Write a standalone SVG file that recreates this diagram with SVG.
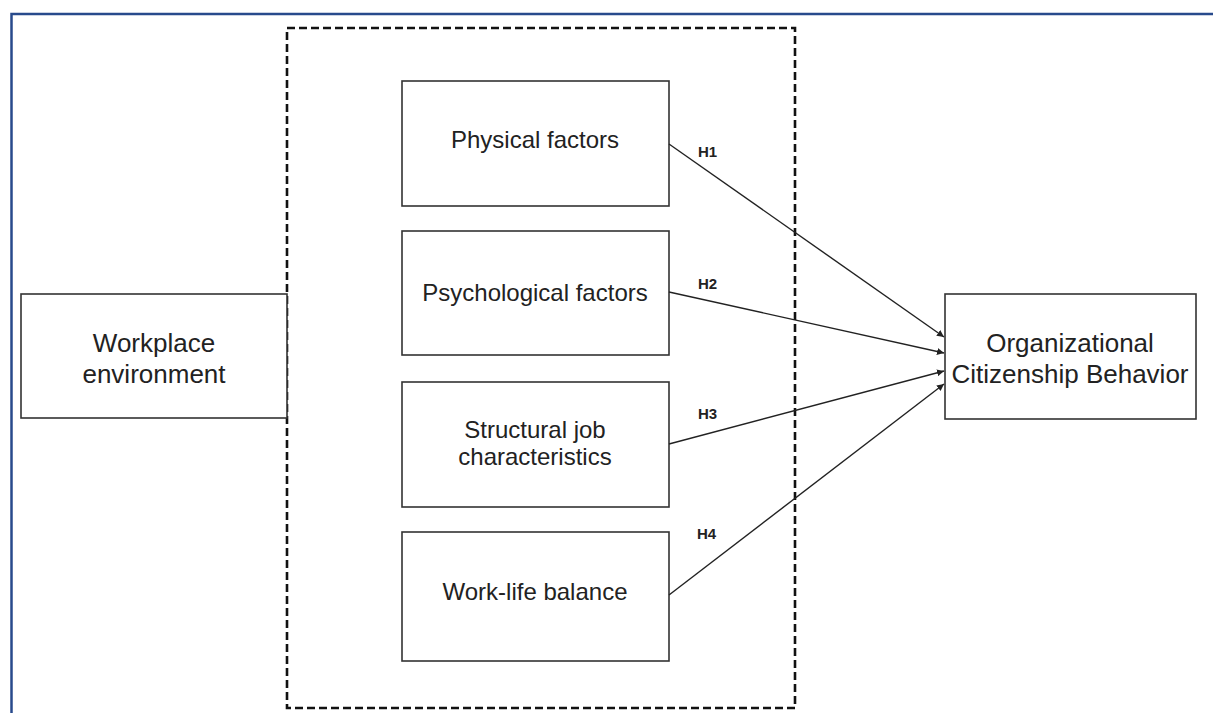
<svg xmlns="http://www.w3.org/2000/svg" width="1213" height="713" viewBox="0 0 1213 713">
<defs>
<style>
.box{fill:#fff;stroke:#333;stroke-width:1.6}
.t{font-family:"Liberation Sans",Arial,sans-serif;font-size:24px;fill:#222;text-anchor:middle}
.tb{font-family:"Liberation Sans",Arial,sans-serif;font-size:26px;fill:#222;text-anchor:middle}
.h{font-family:"Liberation Sans",Arial,sans-serif;font-size:15px;font-weight:bold;fill:#222}
.c{stroke:#222;stroke-width:1.4;fill:none;marker-end:url(#arr)}
</style>
<marker id="arr" viewBox="0 0 10 10" refX="10" refY="5" markerWidth="7" markerHeight="7" markerUnits="userSpaceOnUse" orient="auto">
<path d="M0,0 L10,5 L0,10 z" fill="#222"/>
</marker>
</defs>
<rect width="1213" height="713" fill="#fff"/>
<path d="M11.5,713 L11.5,14 L1213,14" fill="none" stroke="#284a8c" stroke-width="2.5"/>
<g id="group-box">
<rect x="287" y="28" width="508" height="680" fill="none" stroke="#111" stroke-width="2.6" stroke-dasharray="8,4"/>
</g>
<g id="workplace">
<rect class="box" x="21" y="294" width="266" height="124"/>
<text class="tb" x="154" y="352">Workplace</text>
<text class="tb" x="154" y="383">environment</text>
</g>
<g id="physical">
<rect class="box" x="402" y="81" width="267" height="125"/>
<text class="t" x="535" y="148">Physical factors</text>
</g>
<g id="psychological">
<rect class="box" x="402" y="231" width="267" height="124"/>
<text class="t" x="535" y="301">Psychological factors</text>
</g>
<g id="structural">
<rect class="box" x="402" y="382" width="267" height="125"/>
<text class="t" x="535" y="438">Structural job</text>
<text class="t" x="535" y="465">characteristics</text>
</g>
<g id="worklife">
<rect class="box" x="402" y="532" width="267" height="129"/>
<text class="t" x="535" y="600">Work-life balance</text>
</g>
<g id="ocb">
<rect class="box" x="945" y="294" width="251" height="125"/>
<text class="tb" x="1070" y="352">Organizational</text>
<text class="tb" x="1070" y="383">Citizenship Behavior</text>
</g>
<g id="connectors">
<line class="c" x1="669" y1="144" x2="944" y2="337"/>
<line class="c" x1="669" y1="292" x2="944" y2="353"/>
<line class="c" x1="669" y1="444" x2="944" y2="371"/>
<line class="c" x1="669" y1="595" x2="944" y2="384"/>
<text class="h" x="698" y="157">H1</text>
<text class="h" x="698" y="289">H2</text>
<text class="h" x="698" y="419">H3</text>
<text class="h" x="697" y="539">H4</text>
</g>
</svg>
